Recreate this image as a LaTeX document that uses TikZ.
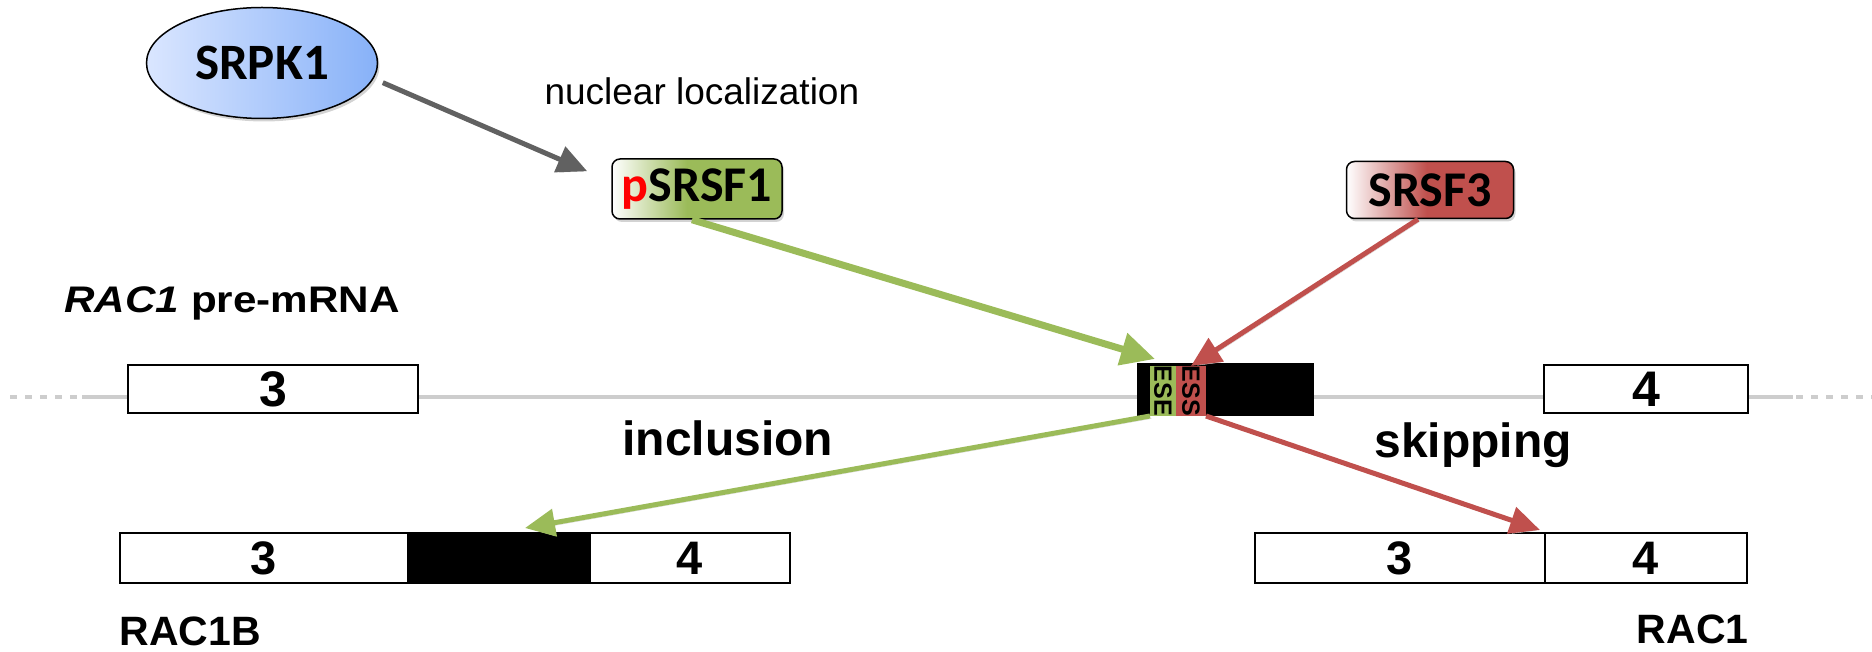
\documentclass[tikz,border=0pt]{standalone}
\usepackage{fontspec}
\usepackage{graphicx}
\setmainfont{Liberation Sans}
\newfontfamily\calibri{Carlito}
\usetikzlibrary{arrows.meta,shadows,shapes.geometric,positioning}

\definecolor{sfgreen}{RGB}{155,187,89}
\definecolor{sfred}{RGB}{192,80,77}
\definecolor{kinpale}{RGB}{218,230,255}
\definecolor{kinblue}{RGB}{135,177,248}
\definecolor{intron}{RGB}{205,205,205}
\definecolor{linkgray}{RGB}{97,97,97}

\pgfdeclarehorizontalshading{greenfade}{100bp}{color(0bp)=(white); color(25bp)=(white); color(47bp)=(sfgreen); color(100bp)=(sfgreen)}
\pgfdeclarehorizontalshading{redfade}{100bp}{color(0bp)=(white); color(25bp)=(white); color(49bp)=(sfred); color(100bp)=(sfred)}

\newcommand{\sizept}[1]{\fontsize{#1pt}{#1pt}\selectfont}

\tikzset{
  exon/.style={draw, line width=2pt, fill=white, inner sep=0pt, outer sep=0pt, font=\bfseries\sizept{50}},
  motif/.style={inner sep=0pt, outer sep=0pt, minimum height=50pt, font=\bfseries\sizept{25}},
  protein/.style={draw, line width=1.5pt, rounded corners=8pt, inner sep=0pt, font=\calibri\bfseries\sizept{50},
    drop shadow={shadow xshift=2pt, shadow yshift=-3pt, opacity=0.35}},
  intronline/.style={draw=intron, line width=4.5pt},
  link/.style={line width=#1, -{Triangle[length=30pt,width=27pt]},
    preaction={draw=black!18, transform canvas={shift={(1.5pt,-2.5pt)}}}},
  caption/.style={font=\bfseries\sizept{48}}
}

\begin{document}
\begin{tikzpicture}[x=1pt,y=-1pt]
\useasboundingbox (0,0) rectangle (1872,652);

% kinase and splicing factors
\node[ellipse, draw, line width=1.5pt, minimum width=231pt, minimum height=111pt, inner sep=0pt,
  left color=kinpale, right color=kinblue, drop shadow={shadow xshift=2pt, shadow yshift=-3pt, opacity=0.35},
  font=\calibri\bfseries\sizept{51}] (srpk1) at (262,63) {SRPK1};
\node[anchor=base west, font=\sizept{37}] (nucloc) at (541,105) {nuclear localization};
\node[protein, shading=greenfade, minimum width=170pt, minimum height=60pt] (psrsf1) at (697,189) {\textcolor{red}{p}SRSF1};
\node[protein, shading=redfade, minimum width=167pt, minimum height=57pt] (srsf3) at (1430,190) {SRSF3};

% pre-mRNA
\node[anchor=base west, font=\bfseries\sizept{37}] (premrna) at (61,313) {\scalebox{1.14}[1]{\textit{RAC1} pre-mRNA}};
\draw[intronline] (82,397) -- (1793,397);
\draw[intronline, dash pattern=on 7pt off 8pt] (10,397) -- (82,397);
\draw[intronline, dash pattern=on 7pt off 8pt] (1796,397) -- (1872,397);
\node[exon, minimum width=290pt, minimum height=48pt] (ex3) at (273,389) {3};
\node[exon, minimum width=204pt, minimum height=48pt] (ex4) at (1646,389) {4};
\node[draw, line width=1pt, fill=black, minimum width=176pt, minimum height=51pt, inner sep=0pt] (alt) at (1225,389.5) {};
\node[motif, fill=sfgreen, minimum width=26pt] (ese) at (1163,391) {\rotatebox{-90}{ESE}};
\node[motif, fill=sfred, minimum width=30pt] (ess) at (1191,391) {\rotatebox{-90}{ESS}};

\node[caption, anchor=base west] (incl) at (619,455) {inclusion};
\node[caption, anchor=base west] (skip) at (1371,457) {skipping};

% spliced products
\node[exon, font=\bfseries\sizept{47}, minimum width=288pt, minimum height=50pt] (ex3b) at (264,558) {3};
\node[exon, fill=black, minimum width=182pt, minimum height=50pt, right=0pt of ex3b] (altb) {};
\node[exon, font=\bfseries\sizept{47}, minimum width=200pt, minimum height=50pt, right=0pt of altb] (ex4b) {4};
\node[exon, font=\bfseries\sizept{47}, minimum width=290pt, minimum height=50pt] (ex3c) at (1400,558) {3};
\node[exon, font=\bfseries\sizept{47}, minimum width=202pt, minimum height=50pt, right=0pt of ex3c] (ex4c) {4};
\node[anchor=base west, font=\bfseries\sizept{41}] (rac1b) at (116,645) {RAC1B};
\node[anchor=base east, font=\bfseries\sizept{41}] (rac1) at (1752,643) {RAC1};

% arrows
\draw[link=5pt, linkgray, shorten <=10pt] (srpk1.-8) -- ([shift={(-24pt,-13pt)}]psrsf1.north west);
\draw[link=7pt, sfgreen, -{Triangle[length=34pt,width=32pt]}] ([xshift=-5pt]psrsf1.south) -- ([shift={(5pt,7pt)}]ese.north west);
\draw[link=5pt, sfred] ([xshift=-12pt]srsf3.south) -- (ess.north);
\draw[link=5pt, sfgreen] (ese.south west) -- ([shift={(26pt,5pt)}]altb.north);
\draw[link=5pt, sfred] (ess.south east) -- ([shift={(-5pt,3pt)}]ex3c.north east);
\end{tikzpicture}
\end{document}
